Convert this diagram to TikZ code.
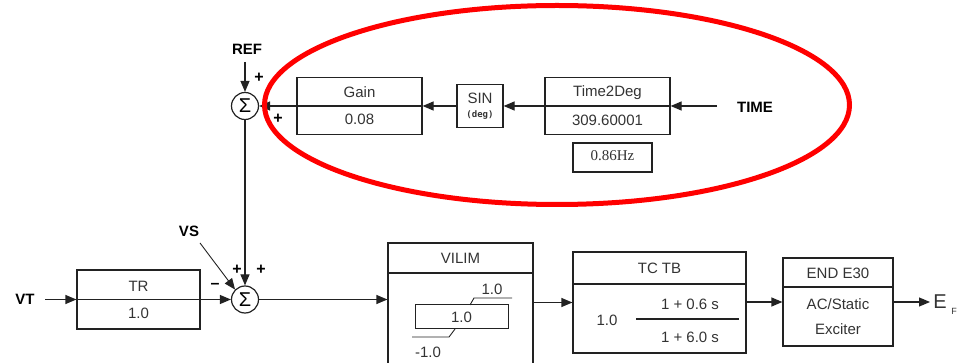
\documentclass[tikz,border=0pt]{standalone}
\usepackage{fontspec}
\setmainfont{Liberation Sans}
\newfontfamily\serifhz{Liberation Serif}
\newfontfamily\monodeg{DejaVu Sans Mono}
\usetikzlibrary{arrows.meta}
\definecolor{txt}{HTML}{333333}
\definecolor{ln}{HTML}{222222}
\begin{document}
\begin{tikzpicture}[x=1pt,y=-1pt,
  blk/.style={draw=ln,line width=1.2pt,rectangle,inner sep=0pt},
  lbl/.style={text=txt,font=\fontsize{15}{17}\selectfont,inner sep=0pt},
  bold/.style={text=black,font=\fontsize{15}{17}\selectfont\bfseries,inner sep=0pt},
  pm/.style={text=black,font=\fontsize{16}{17}\selectfont\bfseries,inner sep=0pt},
  sumc/.style={draw=ln,line width=1.2pt,circle,minimum size=27pt,inner sep=0pt,font=\fontsize{20}{20}\selectfont,text=black},
  arr/.style={draw=ln,line width=1.2pt,-{Triangle[length=11pt,width=9pt]}},
  wire/.style={draw=ln,line width=1.2pt}]
\useasboundingbox (0,0) rectangle (959,363);
% ---------------- top loop ----------------
\node[sumc] (s1) at (245,106) {\raisebox{-0.5pt}{Σ}};
\node[bold] (ref) at (247,49) {REF};
\coordinate (refs) at (245,62);
\draw[arr] (refs) -- (s1.north);
\node[pm] (p1) at (259,78) {+};
\node[pm] (p2) at (278,119) {+};

\node[blk,minimum width=125pt,minimum height=57pt] (gain) at (359.5,106) {};
\draw[wire] (gain.west) -- (gain.east);
\node[lbl] (gaint) at (359.5,92) {Gain};
\node[lbl] (gainv) at (359.5,119) {0.08};

\node[blk,minimum width=46pt,minimum height=43pt] (sin) at (480,106) {};
\node[lbl] (sint) at (480,98) {SIN};
\node[text=txt,font=\monodeg\fontsize{9}{10}\selectfont\bfseries,inner sep=0pt] (sind) at (480,115) {(deg)};

\node[blk,minimum width=125pt,minimum height=57pt] (t2d) at (607.5,106) {};
\draw[wire] (t2d.west) -- (t2d.east);
\node[lbl] (t2dt) at (607.5,93) {Time2Deg};
\node[lbl] (t2dv) at (607.5,120) {309.60001};

\node[blk,minimum width=79pt,minimum height=29pt] (hz) at (612.5,157.5) {};
\node[text=txt,font=\serifhz\fontsize{15}{17}\selectfont,inner sep=0pt] (hzt) at (612.5,156) {0.86Hz};

\node[bold] (time) at (755,107) {TIME};
\coordinate (times) at (717,106);
\draw[arr] (times) -- (t2d.east);
\draw[arr] (t2d.west) -- (sin.east);
\draw[arr] (sin.west) -- (gain.east);
\draw[arr] (gain.west) -- (s1.east);

% ---------------- bottom chain ----------------
\node[sumc] (s2) at (245,299.5) {\raisebox{-0.5pt}{Σ}};
\draw[arr] (s1.south) -- (s2.north);
\node[blk,minimum width=123pt,minimum height=59pt] (tr) at (138.5,299.5) {};
\node[lbl] (trt) at (138.5,286) {TR};
\node[lbl] (trv) at (138.5,313) {1.0};
\node[bold] (vt) at (25,299) {VT};
\coordinate (vts) at (45,299.5);
\draw[arr] (vts) -- (tr.west);
\draw[wire] (tr.west) -- (tr.east);
\draw[arr] (tr.east) -- (s2.west);
\node[pm] (m1) at (215,286) {--};
\node[pm] (p3) at (237,270) {+};
\node[pm] (p4) at (261,270) {+};
\node[bold] (vs) at (189,231) {VS};
\coordinate (vss) at (200,243);
\draw[arr,line width=0.9pt] (vss) -- (s2.north west);

% VILIM
\node[blk,minimum width=145pt,minimum height=132pt] (vilim) at (460.5,309) {};
\draw[wire] (388,273) -- (533,273);
\node[lbl] (vilimt) at (460.5,258) {VILIM};
\node[blk,line width=1pt,minimum width=93pt,minimum height=24pt] (lim) at (461.5,317) {};
\node[lbl] (limv) at (461.5,317) {1.0};
\draw[wire,line width=0.9pt] (470,305) -- (474,298) -- (512,298);
\node[lbl] (limu) at (492,289) {1.0};
\draw[wire,line width=0.9pt] (455,329) -- (449,337) -- (412,337);
\node[lbl] (liml) at (428,352) {-1.0};
\draw[arr] (s2.east) -- (s2.east -| vilim.west);

% TC TB
\node[blk,minimum width=173pt,minimum height=101pt] (tc) at (659.5,302.5) {};
\draw[wire] (573,284) -- (746,284);
\node[lbl] (tct) at (659.5,268) {TC TB};
\node[lbl] (tcg) at (607,320) {1.0};
\draw[wire] (636,319) -- (739,319);
\node[lbl] (tcn) at (690,304) {1 + 0.6 s};
\node[lbl] (tcd) at (690,337) {1 + 6.0 s};
\draw[arr] (tc.west -| vilim.east) -- (tc.west);

% END E30
\node[blk,minimum width=110pt,minimum height=88pt] (ex) at (838,302) {};
\draw[wire] (783,287) -- (893,287);
\node[lbl] (ext) at (838,273) {END E30};
\node[lbl] (ex1) at (838,304) {AC/Static};
\node[lbl] (ex2) at (838,329) {Exciter};
\draw[arr] (ex.east -| tc.east) -- (ex.west);
\coordinate (out) at (930,302);
\draw[arr] (ex.east) -- (out);
\node[text=txt,font=\fontsize{20}{20}\selectfont,inner sep=0pt] (ef) at (940,302) {E};
\node[text=txt,font=\fontsize{9}{9}\selectfont,inner sep=0pt] (efs) at (954,311) {F};

% red ellipse
\draw[red,line width=5pt] (557,105) ellipse [x radius=292.5pt, y radius=99.5pt];
\end{tikzpicture}
\end{document}
